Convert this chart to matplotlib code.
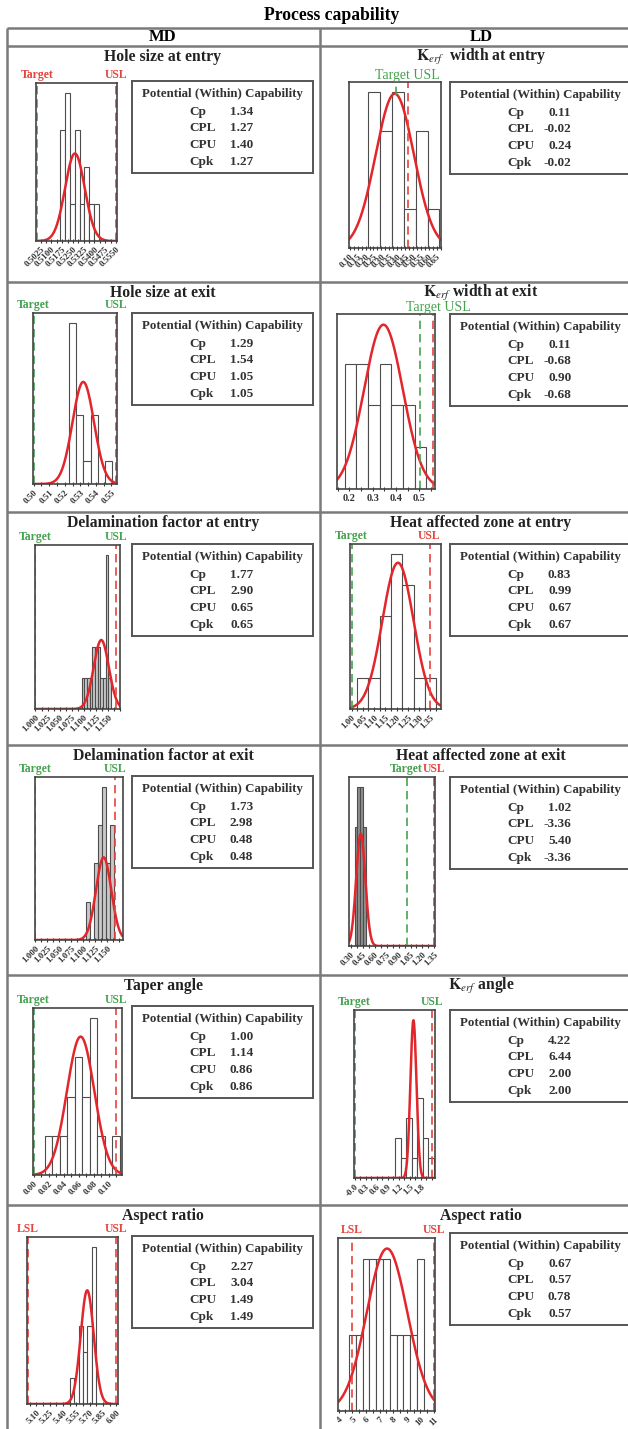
import numpy as np
import matplotlib.pyplot as plt
from matplotlib.ticker import AutoMinorLocator

plt.rcParams['font.family'] = ['Liberation Serif', 'DejaVu Serif']
plt.rcParams['mathtext.fontset'] = 'stix'

W, H = 628, 1429

# panels in reading order: MD, LD, MD, LD, ...
titles = ["Hole size at entry", r"$\mathbf{K}_{\mathit{erf}}$  width at entry",
          "Hole size at exit", r"$\mathbf{K}_{\mathit{erf}}$ width at exit",
          "Delamination factor at entry", "Heat affected zone at entry",
          "Delamination factor at exit", "Heat affected zone at exit",
          "Taper angle", r"$\mathbf{K}_{\mathit{erf}}$ angle",
          "Aspect ratio", "Aspect ratio"]

# histogram bins (first edge, width) and counts
bin_start = [0.5162, 0.2175, 0.5225, 0.18, 1.0955, 1.025, 1.106, 0.345, 0.015, 1.1, 5.475, 4.75]
bin_width = [0.00335, 0.075, 0.0047, 0.05, 0.0055, 0.05, 0.0083, 0.037, 0.01, 0.15, 0.05, 0.5]
counts = [[3, 4, 1, 3, 1, 2, 1, 1],
          [4, 3, 4, 1, 3, 1],
          [7, 3, 1, 3, 0, 1],
          [3, 3, 2, 3, 2, 2, 1],
          [1, 1, 1, 1, 2, 2, 2, 1, 1, 5, 1],
          [1, 1, 3, 5, 4, 1, 1],
          [1, 0, 2, 3, 4, 2, 3],
          [3, 4, 4, 3],
          [1, 1, 1, 2, 3, 2, 4, 1, 0, 1],
          [2, 1, 3, 1, 4, 2, 1],
          [1, 0, 3, 2, 3, 6],
          [1, 1, 2, 2, 2, 2, 1, 1, 1, 1, 2]]

# fitted normal curve (within)
fit_mean = [0.5264, 0.385, 0.5319, 0.346, 1.1362, 1.206, 1.1425, 0.423, 0.0627, 1.602, 5.672, 7.55]
fit_sd = [0.00683, 0.121, 0.0069, 0.083, 0.0157, 0.069, 0.016, 0.0573, 0.0183, 0.083, 0.0734, 1.49]
fit_peak = [2.36, 3.96, 4.45, 3.93, 2.24, 4.72, 2.16, 2.83, 3.53, 7.9, 4.35, 2.14]

# spec limits
lower_name = ["Target"] * 10 + ["LSL", "LSL"]
lower_x = [0.5, 0.392, 0.5, 0.504, 1.0, 1.0, 1.0, 1.0, 0.0, 0.0, 5.0, 5.0]
usl_x = [0.555, 0.47, 0.553, 0.557, 1.1665, 1.346, 1.1658, 1.35, 0.11, 2.1, 6.0, 11.0]

x_range = [(0.4993, 0.5557), (0.095, 0.678), (0.4996, 0.5536), (0.147, 0.567),
           (0.999, 1.175), (0.993, 1.397), (0.999, 1.183), (0.275, 1.358),
           (-0.0009, 0.1179), (-0.018, 2.19), (4.993, 6.019), (3.95, 11.07)]

tick_labels = [["0.5025", "0.5100", "0.5175", "0.5250", "0.5325", "0.5400", "0.5475", "0.5550"],
               ["0.10", "0.15", "0.20", "0.25", "0.30", "0.35", "0.40", "0.45", "0.50", "0.55", "0.60", "0.65"],
               ["0.50", "0.51", "0.52", "0.53", "0.54", "0.55"],
               ["0.2", "0.3", "0.4", "0.5"],
               ["1.000", "1.025", "1.050", "1.075", "1.100", "1.125", "1.150"],
               ["1.00", "1.05", "1.10", "1.15", "1.20", "1.25", "1.30", "1.35"],
               ["1.000", "1.025", "1.050", "1.075", "1.100", "1.125", "1.150"],
               ["0.30", "0.45", "0.60", "0.75", "0.90", "1.05", "1.20", "1.35"],
               ["0.00", "0.02", "0.04", "0.06", "0.08", "0.10"],
               ["-0.0", "0.3", "0.6", "0.9", "1.2", "1.5", "1.8"],
               ["5.10", "5.25", "5.40", "5.55", "5.70", "5.85", "6.00"],
               ["4", "5", "6", "7", "8", "9", "10", "11"]]

cp = [1.34, 0.11, 1.29, 0.11, 1.77, 0.83, 1.73, 1.02, 1.00, 4.22, 2.27, 0.67]
cpl = [1.27, -0.02, 1.54, -0.68, 2.90, 0.99, 2.98, -3.36, 1.14, 6.44, 3.04, 0.57]
cpu = [1.40, 0.24, 1.05, 0.90, 0.65, 0.67, 0.48, 5.40, 0.86, 2.00, 1.49, 0.78]
cpk = [1.27, -0.02, 1.05, -0.68, 0.65, 0.67, 0.48, -3.36, 0.86, 2.00, 1.49, 0.57]

# ---- styling / layout (pixels)
GREEN = '#45a350'
RED = '#e5443c'
CURVE = '#e3262b'
lower_col = [GREEN] * 10 + [RED, RED]
lower_lab_col = [RED, None, GREEN, None, GREEN, GREEN, GREEN, GREEN, GREEN, GREEN, RED, RED]
usl_lab_col = [RED, None, GREEN, None, GREEN, RED, GREEN, RED, GREEN, GREEN, RED, RED]
lower_span = [1, 0.08, 1, 1, 1, 1, 1, 1, 1, 1, 1, 1]
bar_face = ['white'] * 4 + ['#c8c8c8', 'white', '#c8c8c8', '#8f8f8f'] + ['white'] * 4
combined_x = {1: 0.63, 3: 1.03}

hist_px = [(36, 83, 117, 241), (349, 82, 441, 248),
           (33, 313, 117, 484), (337, 314, 435, 489),
           (35, 545, 120, 709), (350, 544, 441, 709),
           (35, 777, 123, 940), (349, 777, 435, 946),
           (33, 1008, 122, 1175), (354, 1010, 435, 1178),
           (27, 1237, 118, 1404), (338, 1238, 435, 1411)]
box_top = [81, 82, 313, 314, 544, 544, 776, 777, 1006, 1010, 1236, 1233]
row_top = [46, 282, 512, 745, 975, 1205]

fig = plt.figure(figsize=(W / 100, H / 100), dpi=100)
bg = fig.add_axes([0, 0, 1, 1])
bg.set_xlim(0, W)
bg.set_ylim(H, 0)
bg.axis('off')


def px_axes(x0, y0, x1, y1):
    return fig.add_axes([x0 / W, 1 - y1 / H, (x1 - x0) / W, (y1 - y0) / H])


# table frame
lk = dict(color='#7a7a7a', lw=1.8, solid_capstyle='butt')
for y in [28] + row_top:
    bg.plot([7, W], [y, y], **lk)
bg.plot([7, 7], [28, H], **lk)
bg.plot([320, 320], [28, H], **lk)

bg.text(332, 15, "Process capability", ha='center', va='center', fontsize=12.7, fontweight='bold')
bg.text(163, 37, "MD", ha='center', va='center', fontsize=12, fontweight='bold')
bg.text(481, 37, "LD", ha='center', va='center', fontsize=12, fontweight='bold')

for i in range(12):
    row, col = divmod(i, 2)
    cx = 163 if col == 0 else 481
    bg.text(cx, row_top[row] + 11, titles[i], ha='center', va='center',
            fontsize=11.3, fontweight='bold', color='#222222')

    ax = px_axes(*hist_px[i])
    n = len(counts[i])
    edges = bin_start[i] + bin_width[i] * np.arange(n + 1)
    ax.bar(edges[:-1], counts[i], width=bin_width[i], align='edge',
           facecolor=bar_face[i], edgecolor='#4d4d4d', lw=0.8)
    xs = np.linspace(x_range[i][0], x_range[i][1], 400)
    ax.plot(xs, fit_peak[i] * np.exp(-0.5 * ((xs - fit_mean[i]) / fit_sd[i]) ** 2),
            color=CURVE, lw=1.8)
    ax.axvline(lower_x[i], ymin=1 - lower_span[i], ymax=1, color=lower_col[i],
               ls=(0, (5, 3)), lw=1.2)
    ax.axvline(usl_x[i], color=RED, ls=(0, (5, 3)), lw=1.2)
    ax.set_xlim(*x_range[i])
    ax.set_ylim(0, 1.065 * max(max(counts[i]), fit_peak[i]))

    pos = [float(s) for s in tick_labels[i]]
    ax.set_xticks(pos)
    if i == 3:
        ax.set_xticklabels(tick_labels[i], fontsize=7.5, fontweight='bold', color='#333333')
    else:
        ax.set_xticklabels(tick_labels[i], rotation=45, ha='right', va='top',
                           rotation_mode='anchor', fontsize=6.5, fontweight='bold',
                           color='#333333')
    ax.xaxis.set_minor_locator(AutoMinorLocator(2))
    ax.tick_params(axis='x', which='both', direction='inout', length=3.5, width=0.8,
                   color='#333333', pad=1.5)
    ax.tick_params(axis='y', left=False, labelleft=False)
    for s in ax.spines.values():
        s.set_color('#444444')
        s.set_linewidth(1.2)

    tr = ax.get_xaxis_transform()
    if i in combined_x:
        ax.text(combined_x[i], 1.0, "Target USL", transform=ax.transAxes, ha='center',
                va='bottom', color=GREEN, fontsize=10, clip_on=False)
    else:
        ax.text(lower_x[i], 1.01, lower_name[i], transform=tr, ha='center', va='bottom',
                color=lower_lab_col[i], fontsize=8.5, fontweight='bold', clip_on=False)
        ax.text(usl_x[i], 1.01, "USL", transform=tr, ha='center', va='bottom',
                color=usl_lab_col[i], fontsize=8.5, fontweight='bold', clip_on=False)

    # capability box
    bx0 = 132 if col == 0 else 450
    bx = px_axes(bx0, box_top[i], bx0 + 181, box_top[i] + 92)
    bx.set_xticks([])
    bx.set_yticks([])
    for s in bx.spines.values():
        s.set_color('#555555')
        s.set_linewidth(1.4)
    bx.text(0.5, 0.855, "Potential (Within) Capability", ha='center', va='center',
            fontsize=9.3, fontweight='bold', color='#333333')
    for name, val, yy in zip(["Cp", "CPL", "CPU", "Cpk"], [cp[i], cpl[i], cpu[i], cpk[i]],
                             [0.665, 0.49, 0.305, 0.12]):
        bx.text(0.315, yy, name, ha='left', va='center', fontsize=9.5,
                fontweight='bold', color='#333333')
        bx.text(0.67, yy, f"{val:.2f}", ha='right', va='center', fontsize=9.5,
                fontweight='bold', color='#333333')

fig.savefig('out.png', dpi=100)
